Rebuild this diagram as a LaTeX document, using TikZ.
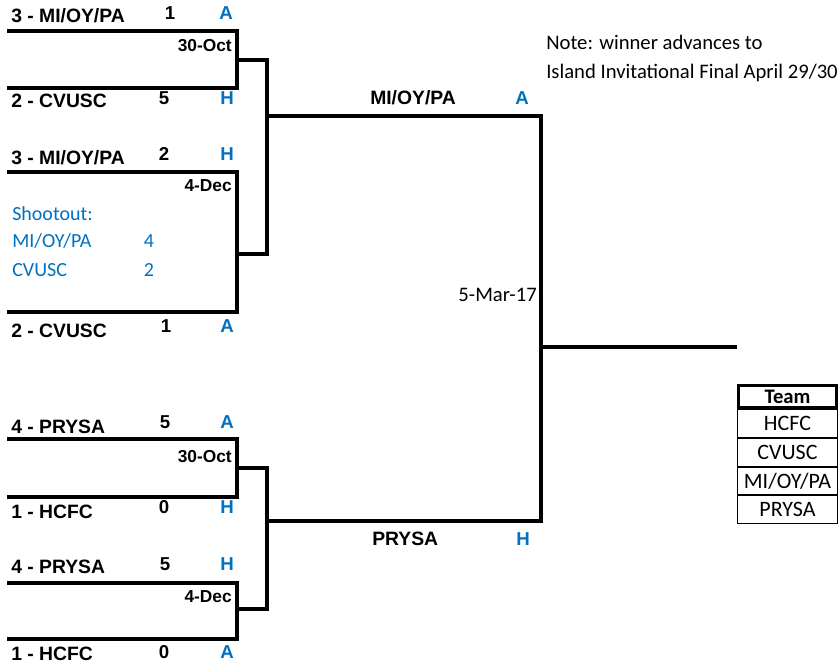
\documentclass[tikz,border=0pt]{standalone}
\usepackage{fontspec}
\setmainfont{Liberation Sans}
\newfontfamily\calfont{Carlito}
\definecolor{xlblue}{HTML}{0070C0}

\tikzset{
  bline/.style={line width=3pt, line join=miter},
  team/.style={anchor=base west, inner sep=0pt, font=\fontsize{14.5}{16}\selectfont\bfseries},
  goals/.style={anchor=base, inner sep=0pt, font=\fontsize{14}{16}\selectfont\bfseries},
  venue/.style={goals, text=xlblue},
  gamedate/.style={anchor=base east, inner sep=0pt, font=\fontsize{13}{15}\selectfont\bfseries},
  shoot/.style={anchor=base west, inner sep=0pt, text=xlblue, font=\calfont\fontsize{15}{17}\selectfont},
  note/.style={anchor=base west, inner sep=0pt, font=\calfont\fontsize{15.5}{17}\selectfont},
  headcell/.style={draw, line width=2.25pt, minimum width=73.5pt, minimum height=16.5pt, inner sep=0pt, font=\calfont\fontsize{15.5}{17}\selectfont\bfseries},
  cell/.style={draw, line width=0.75pt, minimum width=75pt, minimum height=20.8pt, inner sep=0pt, font=\calfont\fontsize{16.5}{18}\selectfont},
}

\begin{document}
\begin{tikzpicture}[x=0.75pt, y=-0.75pt]
    \useasboundingbox (0,0) rectangle (840,663);
    % first round, top half
    \coordinate (Q1a) at (7,31);
    \coordinate (Q1b) at (237,31);
    \coordinate (Q1c) at (237,88);
    \coordinate (Q1d) at (7,88);
    \coordinate (Q2a) at (7,172);
    \coordinate (Q2b) at (237,172);
    \coordinate (Q2c) at (237,312);
    \coordinate (Q2d) at (7,312);
    % first round, bottom half
    \coordinate (Q3a) at (7,439);
    \coordinate (Q3b) at (237,439);
    \coordinate (Q3c) at (237,497);
    \coordinate (Q3d) at (7,497);
    \coordinate (Q4a) at (7,583);
    \coordinate (Q4b) at (237,583);
    \coordinate (Q4c) at (237,639);
    \coordinate (Q4d) at (7,639);
    % aggregate links
    \coordinate (S1a) at (237,60);
    \coordinate (S1b) at (267,60);
    \coordinate (S1c) at (267,254);
    \coordinate (S1d) at (237,254);
    \coordinate (S2a) at (237,468);
    \coordinate (S2b) at (267,468);
    \coordinate (S2c) at (267,609);
    \coordinate (S2d) at (237,609);
    % final
    \coordinate (F0) at (267,116);
    \coordinate (F1) at (541,116);
    \coordinate (F2) at (541,521);
    \coordinate (F3) at (267,521);
    \coordinate (F4) at (541,347);
    \coordinate (F5) at (737,347);
      \draw [bline] (Q1a) -- (Q1b) -- (Q1c) -- (Q1d);
      \draw [bline] (Q2a) -- (Q2b) -- (Q2c) -- (Q2d);
      \draw [bline] (Q3a) -- (Q3b) -- (Q3c) -- (Q3d);
      \draw [bline] (Q4a) -- (Q4b) -- (Q4c) -- (Q4d);
      \draw [bline] (S1a) -- (S1b) -- (S1c) -- (S1d);
      \draw [bline] (S2a) -- (S2b) -- (S2c) -- (S2d);
      \draw [bline] (F0) -- (F1) -- (F2) -- (F3);
      \draw [bline] (F4) -- (F5);
      % leg 1, top
      \node [team] (t1h) at (11,23) {3 - MI/OY/PA};
      \node [goals] (g1h) at (170,20) {1};
      \node [venue] (v1h) at (226,20) {A};
      \node [gamedate] (d1) at (232,52) {30-Oct};
      \node [team] (t1a) at (11,108) {2 - CVUSC};
      \node [goals] (g1a) at (164,105) {5};
      \node [venue] (v1a) at (227,105) {H};
      % leg 2, top
      \node [team] (t2h) at (11,165) {3 - MI/OY/PA};
      \node [goals] (g2h) at (164,161) {2};
      \node [venue] (v2h) at (227,161) {H};
      \node [gamedate] (d2) at (232,192) {4-Dec};
      \node [shoot] (so0) at (12,221) {Shootout:};
      \node [shoot] (so1) at (12,248) {MI/OY/PA};
      \node [shoot, anchor=base] (so1g) at (149,248) {4};
      \node [shoot] (so2) at (12,277) {CVUSC};
      \node [shoot, anchor=base] (so2g) at (149,277) {2};
      \node [team] (t2a) at (11,338) {2 - CVUSC};
      \node [goals] (g2a) at (166,333) {1};
      \node [venue] (v2a) at (227,333) {A};
      % leg 1, bottom
      \node [team] (t3h) at (11,433) {4 - PRYSA};
      \node [goals] (g3h) at (165,428) {5};
      \node [venue] (v3h) at (227,428) {A};
      \node [gamedate] (d3) at (232,462) {30-Oct};
      \node [team] (t3a) at (11,518) {1 - HCFC};
      \node [goals] (g3a) at (164,513) {0};
      \node [venue] (v3a) at (227,513) {H};
      % leg 2, bottom
      \node [team] (t4h) at (11,573) {4 - PRYSA};
      \node [goals] (g4h) at (165,570) {5};
      \node [venue] (v4h) at (227,570) {H};
      \node [gamedate] (d4) at (232,602) {4-Dec};
      \node [team] (t4a) at (11,660) {1 - HCFC};
      \node [goals] (g4a) at (164,658) {0};
      \node [venue] (v4a) at (227,658) {A};
      % final
      \node [team] (fh) at (370,105) {MI/OY/PA};
      \node [venue] (fhv) at (522,105) {A};
      \node [team] (fa) at (372,545) {PRYSA};
      \node [venue] (fav) at (523,545) {H};
      \node [note, anchor=base east] (fd) at (537,302) {5-Mar-17};
      \node [note] (n1) at (546,50) {Note: winner advances to};
      \node [note] (n2) at (546,79) {Island Invitational Final April 29/30};
      % team list
      \node [headcell] (th) at (787.5,396.5) {Team};
      \node [cell] (r1) at (787.5,423.5) {HCFC};
      \node [cell] (r2) at (787.5,452.5) {CVUSC};
      \node [cell] (r3) at (787.5,481) {MI/OY/PA};
      \node [cell] (r4) at (787.5,509.5) {PRYSA};
  \end{tikzpicture}
\end{document}
